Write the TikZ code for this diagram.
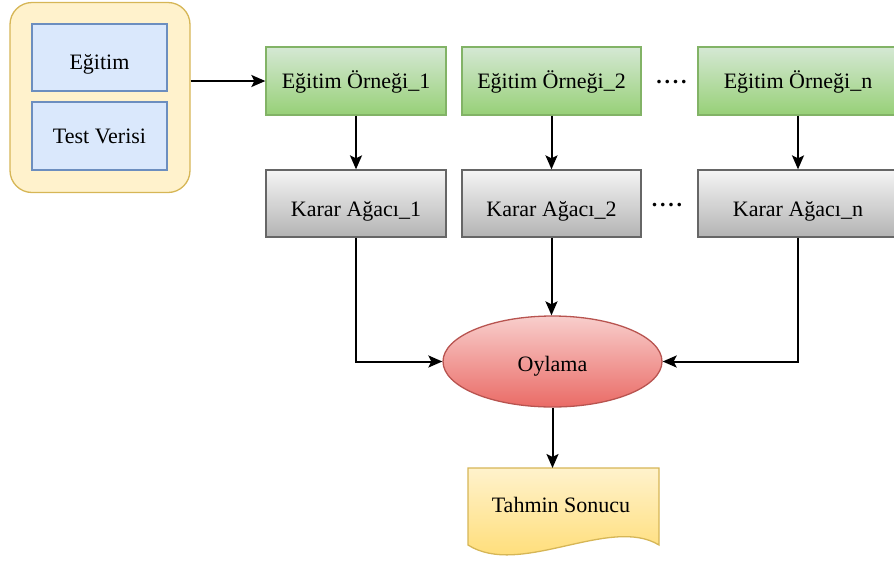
\documentclass[tikz,border=0pt]{standalone}
\usepackage{fontspec}
\setmainfont{Liberation Serif}
\usetikzlibrary{arrows.meta,shapes.geometric,calc}
\definecolor{yelF}{HTML}{FFF2CC}
\definecolor{yelD}{HTML}{D6B656}
\definecolor{yelB}{HTML}{FFD966}
\definecolor{bluF}{HTML}{DAE8FC}
\definecolor{bluD}{HTML}{6C8EBF}
\definecolor{grnT}{HTML}{D5E8D4}
\definecolor{grnB}{HTML}{97D077}
\definecolor{grnD}{HTML}{82B366}
\definecolor{gryT}{HTML}{F5F5F5}
\definecolor{gryB}{HTML}{B3B3B3}
\definecolor{gryD}{HTML}{666666}
\definecolor{redT}{HTML}{F8CECC}
\definecolor{redB}{HTML}{EA6B66}
\definecolor{redD}{HTML}{B85450}
\tikzset{
  txt/.style={font=\fontsize{22}{26}\selectfont, text=black, inner sep=0pt, text depth=0pt},
  bluebox/.style={txt, draw=bluD, fill=bluF, line width=1.3pt, minimum width=135pt, minimum height=67pt},
  greenbox/.style={txt, draw=grnD, top color=grnT, bottom color=grnB, line width=1.3pt, minimum height=68pt, text height=14pt},
  graybox/.style={txt, draw=gryD, top color=gryT, bottom color=gryB, line width=1.3pt, minimum height=67pt, text height=26pt},
  conn/.style={line width=2pt, -{Stealth[length=14pt,width=12pt,inset=3pt]}},
  dotstxt/.style={font=\fontsize{22}{26}\selectfont\bfseries, inner sep=0pt, anchor=base},
}
\begin{document}
\begin{tikzpicture}[x=1pt,y=-1pt]
\useasboundingbox (0,0) rectangle (894,563);
% outer container
\node[draw=yelD, fill=yelF, line width=1.3pt, rounded corners=22pt,
      minimum width=180pt, minimum height=190pt, inner sep=0pt] (outer) at (100,97.5) {};
\node[bluebox, text height=24pt] (egitim) at (99.5,57.5) {Eğitim};
\node[bluebox, minimum height=68pt, text height=14pt] (test) at (99.5,136) {Test Verisi};
% training samples
\node[greenbox, minimum width=180pt] (g1) at (356,81) {Eğitim Örneği\_1};
\node[greenbox, minimum width=179pt] (g2) at (551.5,81) {Eğitim Örneği\_2};
\node[greenbox, minimum width=200pt] (gn) at (798,81) {Eğitim Örneği\_n};
% trees
\node[graybox, minimum width=180pt] (k1) at (356,203.5) {Karar Ağacı\_1};
\node[graybox, minimum width=179pt] (k2) at (551.5,203.5) {Karar Ağacı\_2};
\node[graybox, minimum width=200pt] (kn) at (798,203.5) {Karar Ağacı\_n};
% dots
\node[dotstxt] (d1) at (671.5,83) {.\kern2.8pt.\kern2.8pt.\kern2.8pt.};
\node[dotstxt] (d2) at (667,206) {.\kern2.8pt.\kern2.8pt.\kern2.8pt.};
% voting
\node[txt, ellipse, draw=redD, top color=redT, bottom color=redB, line width=1.3pt,
      minimum width=219pt, minimum height=91pt, text height=19pt] (ell) at (552.5,361.5) {Oylama};
% document shape
\draw[draw=yelD, top color=yelF, bottom color=yelB, line width=1.3pt]
  (468,468) -- (659,468) -- (659,545)
  .. controls (610,515) and (520,578) .. (468,545) -- cycle;
\coordinate (doctop) at (552.5,468);
\node[txt, text height=14pt] (doc) at (561,505) {Tahmin Sonucu};
% connectors
\draw[conn] (outer.east |- g1.west) -- (g1.west);
\draw[conn] (g1.south) -- (k1.north);
\draw[conn] (g2.south) -- (k2.north);
\draw[conn] (gn.south) -- (kn.north);
\draw[conn] (k1.south) |- (ell.west);
\draw[conn] (kn.south) |- (ell.east);
\draw[conn] (k2.south) -- (k2.south |- ell.north);
\draw[conn] (ell.south) -- (doctop);
\end{tikzpicture}
\end{document}
